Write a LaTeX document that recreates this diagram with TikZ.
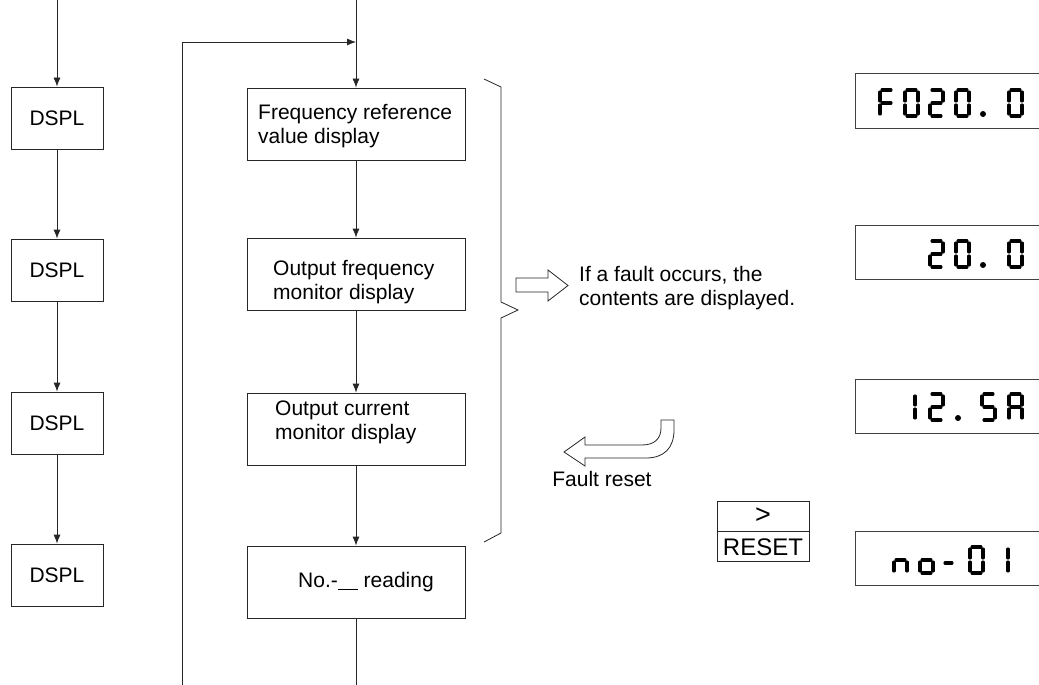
\documentclass[tikz,border=0pt]{standalone}
\usepackage{fontspec}
\setmainfont{Liberation Sans}
\usetikzlibrary{arrows.meta}
\def\segA{(2,0)--(11,0)}
\def\segB{(13,2)--(13,11)}
\def\segC{(13,15)--(13,24)}
\def\segD{(2,26)--(11,26)}
\def\segE{(0,15)--(0,24)}
\def\segF{(0,2)--(0,11)}
\def\segG{(2,13)--(11,13)}
\newcommand\sevseg[3]{\begin{scope}[shift={(#1,#2)}]\foreach \s in {#3}{\draw[segline] \csname seg\s\endcsname;}\end{scope}}
\begin{document}
\begin{tikzpicture}[x=1pt,y=-1pt,
  line/.style={line width=0.8pt,draw=black!85},
  arr/.style={line, -{Latex[length=9pt,width=7pt]}},
  dbox/.style={line, minimum width=92pt, minimum height=62pt, inner sep=0pt, font=\fontsize{21}{24}\selectfont},
  mbox/.style={line, minimum width=218pt, minimum height=72pt, inner sep=0pt},
  lbl/.style={font=\fontsize{21}{24}\selectfont, align=left, inner sep=0pt},
  segline/.style={line width=3.1pt, line cap=round, draw=black},
  disp/.style={line width=1pt, draw=black!75},
  hollow/.style={line width=0.8pt, draw=black!85, fill=white}]
\useasboundingbox (0,0) rectangle (1039,685);

% left column
\node[dbox] (d1) at (57,118) {DSPL};
\node[dbox] (d2) at (57,270) {DSPL};
\node[dbox] (d3) at (57,423) {DSPL};
\node[dbox] (d4) at (57,575) {DSPL};
\coordinate (dtop) at (57,0);
\draw[arr] (dtop) -- (d1.north);
\draw[arr] (d1.south) -- (d2.north);
\draw[arr] (d2.south) -- (d3.north);
\draw[arr] (d3.south) -- (d4.north);

% main column
\node[mbox] (m1) at (356,124) {};
\node[mbox] (m2) at (356,274) {};
\node[mbox] (m3) at (356,429) {};
\node[mbox] (m4) at (356,582) {};
\node[lbl, anchor=west] (t1) at (258,126) {Frequency reference\\value display};
\node[lbl, anchor=west] (t2) at (273,282) {Output frequency\\monitor display};
\node[lbl, anchor=west] (t3) at (275,422) {Output current\\monitor display};
\node[lbl, anchor=west] (t4) at (298,582) {No.-\underline{\hspace{0.95em}} reading};

\coordinate (mtop) at (356,0);
\coordinate (join) at (356,42);
\coordinate (lpc) at (182,42);
\coordinate (lpb) at (182,685);
\coordinate (mbot) at (356,685);
\draw[arr] (mtop) -- (m1.north);
\draw[arr] (lpb) -- (lpc) -- (join);
\draw[arr] (m1.south) -- (m2.north);
\draw[arr] (m2.south) -- (m3.north);
\draw[arr] (m3.south) -- (m4.north);
\draw[line] (m4.south) -- (mbot);

% brace
\draw[line] (484,79) -- (501,87) -- (501,302) -- (518,310) -- (501,318) -- (501,533) -- (484,542);

% hollow right arrow
\draw[hollow] (516,278) -- (548,278) -- (548,270) -- (568,285.5) -- (548,301) -- (548,292) -- (516,292) -- cycle;
\node[lbl, anchor=west] (fault) at (579,288) {If a fault occurs, the\\contents are displayed.};

% curved hollow arrow
\draw[hollow] (564,452) -- (585,437) -- (585,445) -- (642,445)
  .. controls (654,445) and (661,439) .. (661,428) -- (661,420) -- (674,420) -- (674,430)
  .. controls (674,448) and (664,458) .. (646,458) -- (585,458) -- (585,466) -- cycle;
\node[lbl] (freset) at (602,479) {Fault reset};

% reset key
\node[line, minimum width=92pt, minimum height=30pt, inner sep=0pt, font=\fontsize{27}{27}\selectfont] (kg) at (763,516) {\raisebox{1pt}{>}};
\node[line, minimum width=92pt, minimum height=30pt, inner sep=0pt, font=\fontsize{24}{24}\selectfont, anchor=north] (kr) at (kg.south) {RESET};

% displays
\draw[disp] (1045,74) -- (855,74) -- (855,128) -- (1045,128);
\draw[disp] (1045,225) -- (855,225) -- (855,279) -- (1045,279);
\draw[disp] (1045,379) -- (855,379) -- (855,433) -- (1045,433);
\draw[disp] (1045,531) -- (855,531) -- (855,585) -- (1045,585);

% display 1: F020.0
\sevseg{880}{90}{A,F,G,E}
\sevseg{905}{90}{A,B,C,D,E,F}
\sevseg{930}{90}{A,B,G,E,D}
\sevseg{956}{90}{A,B,C,D,E,F}
\fill (983,114) circle (3);
\sevseg{1009}{90}{A,B,C,D,E,F}

% display 2: 20.0
\sevseg{930}{241}{A,B,G,E,D}
\sevseg{956}{241}{A,B,C,D,E,F}
\fill (983,265) circle (3);
\sevseg{1009}{241}{A,B,C,D,E,F}

% display 3: 12.5A
\sevseg{902}{394}{B,C}
\sevseg{930}{394}{A,B,G,E,D}
\fill (958,418) circle (3);
\sevseg{982}{394}{A,F,G,C,D}
\sevseg{1009}{394}{A,B,C,E,F,G}

% display 4: no-01
\sevseg{894}{547}{G,C,E}
\sevseg{920}{547}{G,C,D,E}
\draw[segline] (945,563) -- (952,563);
\sevseg{970}{547}{A,B,C,D,E,F}
\sevseg{995}{547}{B,C}
\end{tikzpicture}
\end{document}
